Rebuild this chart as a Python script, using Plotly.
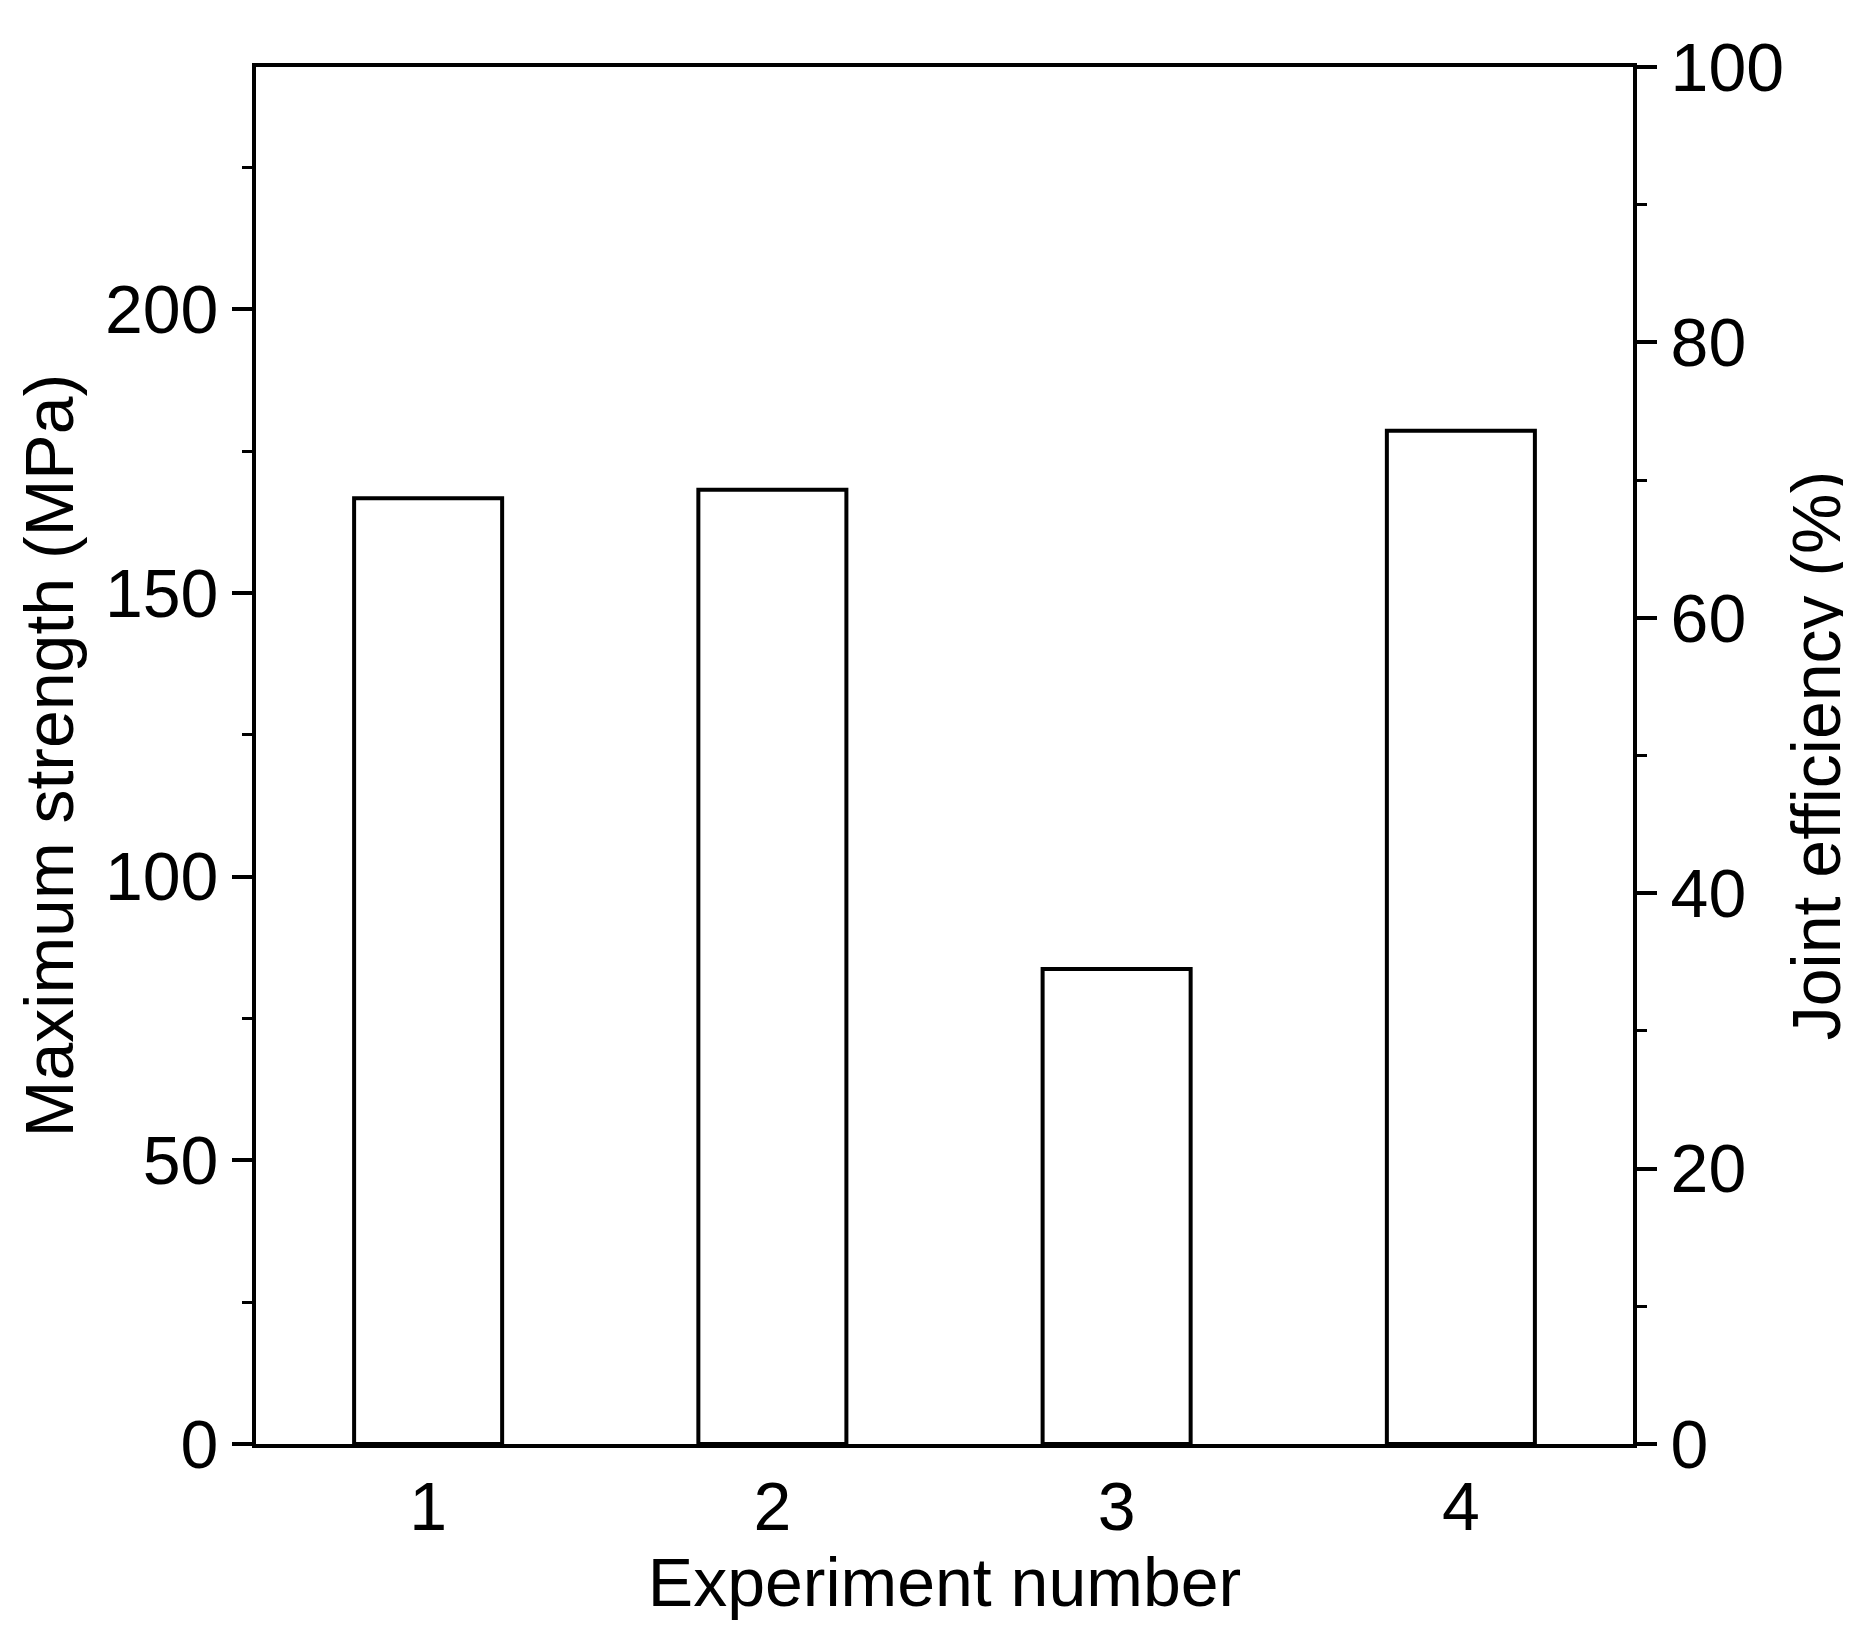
import plotly.graph_objects as go

experiments = [1, 2, 3, 4]
strength_mpa = [166.7, 168.2, 83.7, 178.6]
left_max = 242.7

fig = go.Figure()
fig.add_trace(go.Bar(x=experiments, y=strength_mpa, width=0.43,
                     marker=dict(color="white", line=dict(color="black", width=4))))
fig.add_trace(go.Scatter(x=[None], y=[None], yaxis="y2", showlegend=False))

font = dict(family="Liberation Sans, Arial", size=68, color="black")
axcommon = dict(showline=True, linecolor="black", linewidth=4, ticks="outside",
                ticklen=20, tickwidth=4, tickcolor="black", showgrid=False,
                zeroline=False, tickfont=font)
fig.update_layout(
    width=1851, height=1630, plot_bgcolor="white", paper_bgcolor="white",
    margin=dict(l=248, r=226, t=59, b=194), showlegend=False, font=font,
    xaxis=dict(**{**axcommon, "ticks": ""}, range=[0.5, 4.5], tickvals=experiments, mirror=True,
               title=dict(text="Experiment number", font=font, standoff=5)),
    yaxis=dict(**axcommon, range=[0, left_max], tickvals=[0, 50, 100, 150, 200],
               minor=dict(tickvals=[25, 75, 125, 175, 225], ticklen=10, tickwidth=3, tickcolor="black", ticks="outside"),
               title=dict(text="Maximum strength (MPa)", font=font, standoff=10)),
    yaxis2=dict(**axcommon, overlaying="y", side="right", range=[0, 100],
                tickvals=[0, 20, 40, 60, 80, 100],
                minor=dict(tickvals=[10, 30, 50, 70, 90], ticklen=10, tickwidth=3, tickcolor="black", ticks="outside"),
                title=dict(text="Joint efficiency (%)", font=font, standoff=10)),
)
fig.write_html("out.html")
